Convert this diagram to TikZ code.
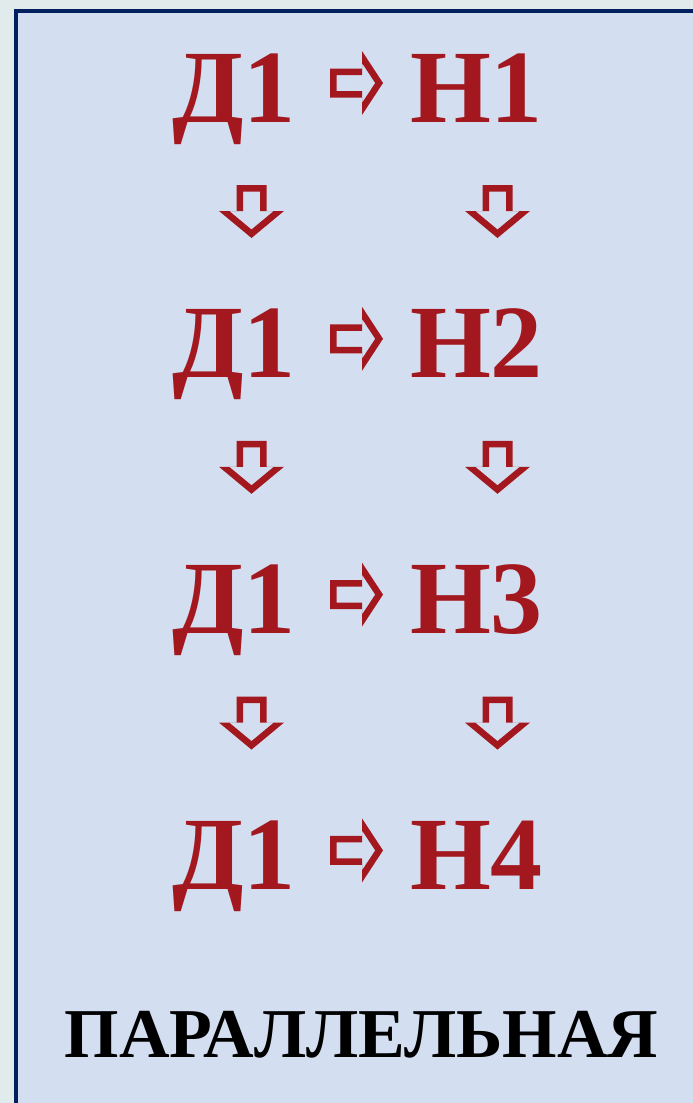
\documentclass[tikz,border=0pt]{standalone}
\usepackage{fontspec}
\setmainfont{Liberation Serif}
\definecolor{outerbg}{HTML}{E1EBEB}
\definecolor{innerbg}{HTML}{D3DEF0}
\definecolor{navy}{HTML}{002060}
\definecolor{darkred}{HTML}{A3181E}
\tikzset{
  big/.style={font=\fontsize{104}{104}\selectfont\bfseries, text=darkred, inner sep=0pt, anchor=base},
  caption/.style={font=\fontsize{70}{70}\selectfont\bfseries, text=black, inner sep=0pt, anchor=base},
  blockarrow/.style={fill=darkred, even odd rule},
  rarrow/.pic={\path[blockarrow]
     (-26.5,-14.5) -- (5.5,-14.5) -- (5.5,-32) -- (26.5,0) -- (5.5,32) -- (5.5,14.5) -- (-26.5,14.5) -- cycle
     (-20,-8) -- (5.5,-8) -- (5.5,-20) -- (18.7,0) -- (5.5,20) -- (5.5,8) -- (-20,8) -- cycle;},
  darrow/.pic={\path[blockarrow]
     (-15,-26.5) -- (15,-26.5) -- (15,-0.5) -- (32.5,-0.5) -- (0,26.5) -- (-32.5,-0.5) -- (-15,-0.5) -- cycle
     (-8.5,-20) -- (8.5,-20) -- (8.5,-0.5) -- (22.3,-0.5) -- (0,18) -- (-22.3,-0.5) -- (-8.5,-0.5) -- cycle;}
}
\begin{document}
\begin{tikzpicture}[x=1pt,y=-1pt]
\useasboundingbox (0,0) rectangle (693,1103);
\fill[outerbg] (0,0) rectangle (693,1103);
\path[fill=innerbg] (15.5,11) rectangle (700,1110);
\draw[navy, line width=4pt] (15.5,1110) -- (15.5,11) -- (700,11);
\foreach \i/\n in {0/1,1/2,2/3,3/4}{
  \node[big] (d\n) at (234,122+255.8*\i) {Д1};
  \node[big] (h\n) at (476.5,122+255.8*\i) {Н\n};
  \pic at (356.5,83+255.8*\i) {rarrow};
}
\foreach \i in {0,1,2}{
  \pic at (251.5,211.5+255.8*\i) {darrow};
  \pic at (497.5,211.5+255.8*\i) {darrow};
}
\node[caption] (cap) at (361.5,1057) {ПАРАЛЛЕЛЬНАЯ};
\end{tikzpicture}
\end{document}
